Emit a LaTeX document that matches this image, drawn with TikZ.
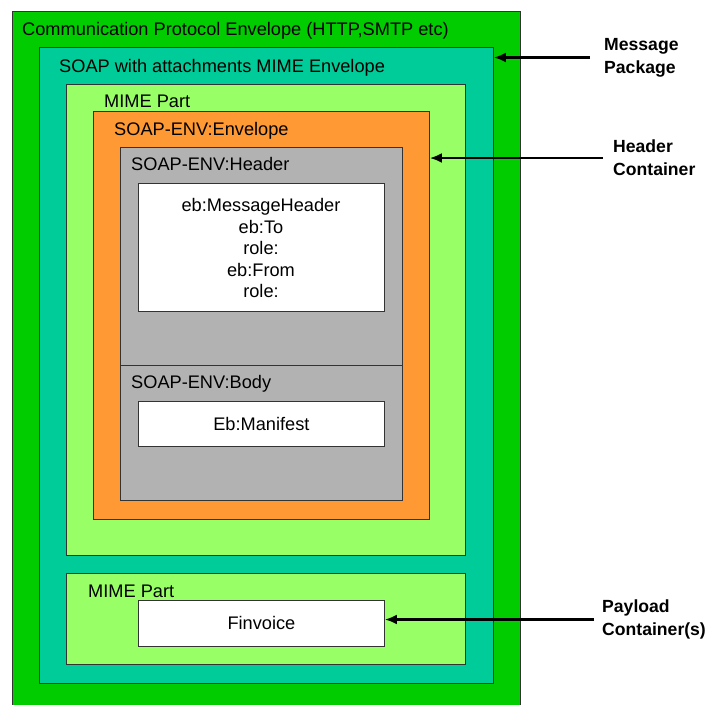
\documentclass[tikz,border=0pt]{standalone}
\usepackage{fontspec}
\setmainfont{Liberation Sans}
\usetikzlibrary{arrows.meta}
\definecolor{env_green}{RGB}{0, 204, 0}
\definecolor{mime_teal}{RGB}{0, 204, 153}
\definecolor{part_green}{RGB}{153, 255, 102}
\definecolor{soap_orange}{RGB}{255, 153, 51}
\definecolor{hdr_grey}{RGB}{178, 178, 178}
\tikzstyle{bx}=[rectangle,draw=black!80,line width=0.8pt,anchor=north west,
  inner sep=0pt]
\tikzstyle{tx}=[anchor=base west,inner sep=0pt,
  font=\fontsize{18.2}{21.5}\selectfont]
\tikzstyle{ct}=[align=center,inner sep=0pt,
  font=\fontsize{18.2}{21.5}\selectfont]
\tikzstyle{lb}=[anchor=west,align=left,inner ysep=0pt,
  font=\fontsize{17.6}{23}\selectfont\bfseries]
\tikzstyle{arr}=[line width=2.4pt,-{Latex[length=12pt,width=10pt]}]
\tikzstyle{none}=[]

\begin{document}
\begin{tikzpicture}[x=1pt, y=-1pt]
            \useasboundingbox (0, 0) rectangle (711, 704);
            \node [style=bx, fill=env_green, minimum width=508pt, minimum height=700pt] (0) at (12, 11) {};
            \node [style=bx, fill=mime_teal, minimum width=454pt, minimum height=636pt] (1) at (39, 47) {};
            \node [style=bx, fill=part_green, minimum width=399pt, minimum height=471pt] (2) at (66, 84) {};
            \node [style=bx, fill=soap_orange, minimum width=336pt, minimum height=408pt] (3) at (93, 111) {};
            \node [style=bx, fill=hdr_grey, minimum width=282pt, minimum height=218pt] (4) at (120, 147) {};
            \node [style=bx, fill=hdr_grey, minimum width=282pt, minimum height=135pt] (5) at (120, 365) {};
            \node [style=bx, fill=white, minimum width=246pt, minimum height=128pt] (6) at (138, 183) {};
            \node [style=bx, fill=white, minimum width=246pt, minimum height=45pt] (7) at (138, 401) {};
            \node [style=bx, fill=part_green, minimum width=399pt, minimum height=91pt] (8) at (66, 573) {};
            \node [style=bx, fill=white, minimum width=246pt, minimum height=46pt] (9) at (138, 600) {};
            \node [style=tx] (10) at (22, 35) {Communication Protocol Envelope (HTTP,SMTP etc)};
            \node [style=tx] (11) at (59, 72) {SOAP with attachments MIME Envelope};
            \node [style=tx] (12) at (104, 107) {MIME Part};
            \node [style=tx] (13) at (114, 135) {SOAP-ENV:Envelope};
            \node [style=tx] (14) at (131, 170) {SOAP-ENV:Header};
            \node [style=tx] (15) at (131, 388) {SOAP-ENV:Body};
            \node [style=tx] (16) at (88, 597) {MIME Part};
            \node [style=ct] (17) at (261, 248) {eb:MessageHeader\\eb:To\\role:\\eb:From\\role:};
            \node [style=ct] (18) at (7.center) {Eb:Manifest};
            \node [style=ct] (19) at (9.center) {Finvoice};
            \node [style=lb, inner xsep=14pt] (20) at (590, 57.5) {Message\\Package};
            \node [style=lb, inner xsep=10pt] (21) at (603, 158) {Header\\Container};
            \node [style=lb, inner xsep=8pt] (22) at (594, 619.5) {Payload\\Container(s)};
            \draw [style=arr] (20.west) to (1.east |- 20.west);
            \draw [style=arr] (21.west) to (3.east |- 21.west);
            \draw [style=arr] (22.west) to (9.east |- 22.west);
    \end{tikzpicture}
\end{document}
